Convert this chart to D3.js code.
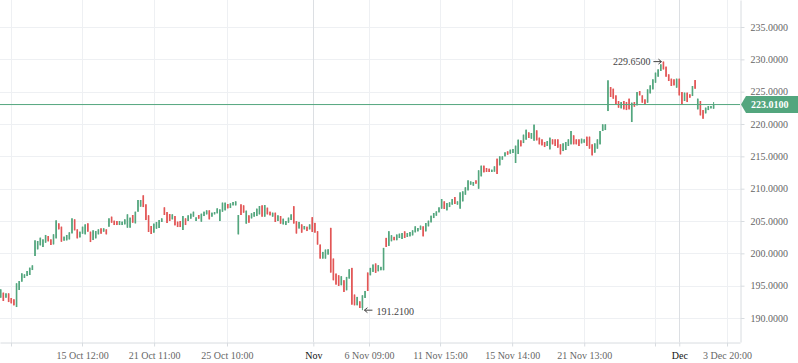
<!DOCTYPE html>
<html>
<head>
<meta charset="utf-8">
<script src="https://cdn.jsdelivr.net/npm/d3@7"></script>
<style>
  body { margin: 0; background: #fff; }
  svg { display: block; }
</style>
</head>
<body>
<div id="chart"></div>
<script>
// hourly candles (index 0 = first bar on the left)
var opens = [193.14,193.92,193.14,193.81,193.09,192.89,191.70,194.33,195.62,196.19,
196.49,196.65,197.42,199.59,200.62,201.24,200.98,201.65,202.68,202.16,
201.39,202.32,204.64,204.12,201.96,202.01,202.16,203.09,205.26,203.71,
202.47,203.04,202.94,204.64,203.35,202.06,202.32,202.94,203.87,203.35,
203.71,204.12,205.67,205.05,205.00,204.38,204.38,204.48,203.97,203.97,
205.93,204.64,206.44,207.22,208.97,207.58,205.88,204.23,203.20,203.81,
203.92,204.85,207.11,206.39,206.08,205.26,205.77,204.90,205.00,203.61,
205.41,205.00,205.36,205.67,205.00,205.93,204.90,205.77,206.03,206.65,
205.67,206.03,206.19,205.00,206.44,206.65,207.63,207.01,207.42,207.42,
202.94,207.58,207.42,204.59,205.88,205.41,205.67,205.77,206.03,207.42,
205.67,207.06,206.44,205.67,206.29,205.00,205.77,204.48,204.38,204.74,
205.15,207.29,204.97,203.84,204.48,203.71,204.12,203.71,205.59,204.71,
203.42,201.36,199.19,199.19,199.81,203.94,199.19,196.87,196.61,195.07,
195.84,194.29,196.10,197.75,193.62,191.97,192.58,191.55,193.10,197.03,
196.61,197.13,198.43,197.23,197.39,197.39,202.39,201.15,201.87,202.55,
202.03,202.37,202.22,203.40,202.53,202.63,202.78,203.25,203.40,203.66,
204.18,203.40,204.18,204.79,205.46,205.82,206.34,206.91,208.04,206.65,
207.16,207.53,208.71,207.53,206.91,208.04,209.07,209.74,210.62,210.46,
211.29,210.00,211.91,213.56,213.20,213.09,212.58,212.63,214.64,213.61,
214.48,215.00,215.77,215.41,215.52,213.97,215.36,217.47,217.06,217.58,
218.71,217.73,217.42,219.02,217.89,217.63,217.22,216.60,216.08,217.63,
217.63,217.63,216.86,215.82,215.98,216.60,216.86,218.25,217.63,217.63,
217.01,217.11,218.04,218.04,216.86,215.57,216.19,216.86,218.92,219.07,
222.01,225.72,225.46,224.43,223.56,222.42,223.56,223.40,223.92,220.31,
223.40,222.89,225.10,224.43,223.81,223.30,224.74,225.36,226.39,227.32,
228.20,229.65,228.87,227.68,227.01,226.91,225.62,227.01,224.95,223.56,
224.85,224.59,224.33,226.80,222.27,223.56,222.16,221.65,222.16,222.42,
222.37];

var highs = [194.43,193.92,193.81,193.81,193.09,192.89,195.36,195.72,196.91,196.75,
197.27,197.78,198.14,202.01,201.91,202.42,202.16,202.84,202.68,202.16,
202.94,205.10,204.64,204.12,202.58,202.84,203.25,205.41,205.26,203.71,
203.35,204.12,204.48,204.64,203.35,203.56,203.45,203.71,203.87,203.87,
203.71,205.41,205.67,205.05,205.00,205.00,204.90,205.26,206.03,205.52,
205.93,206.44,208.25,208.25,208.97,207.58,205.88,204.23,204.59,204.85,
205.15,205.41,207.11,206.39,206.08,206.03,205.77,204.90,205.00,205.77,
205.41,205.88,206.13,206.44,205.57,205.93,206.13,206.44,206.65,206.65,
206.29,206.39,206.96,206.80,207.84,207.84,207.63,207.73,207.94,208.04,
205.93,207.58,207.42,206.60,205.88,206.19,206.39,206.91,207.32,207.42,
207.47,207.06,206.44,206.29,206.29,205.88,205.77,205.36,205.00,205.52,
206.03,207.29,204.97,204.86,204.48,204.23,204.12,204.48,205.59,204.71,
203.42,201.36,200.22,200.58,200.63,203.94,199.19,196.87,196.61,196.46,
195.84,196.35,197.54,197.75,193.62,193.26,192.58,193.51,194.18,197.03,
197.75,198.27,198.43,198.17,197.91,200.84,202.39,203.42,202.80,202.55,
202.91,203.04,203.14,203.40,203.14,203.30,203.56,204.18,203.92,204.28,
204.18,204.69,205.05,205.82,206.24,206.49,207.11,208.40,208.04,207.78,
207.89,208.40,208.71,208.04,209.43,209.59,210.21,211.29,211.13,211.03,
211.29,212.84,213.56,213.56,213.20,213.09,212.94,213.45,214.64,215.00,
215.00,215.62,215.77,216.03,216.13,216.65,217.58,217.47,218.35,219.12,
218.71,218.61,219.90,219.02,217.89,217.63,217.22,217.37,217.89,217.63,
217.63,217.63,216.86,217.01,217.22,217.63,218.92,218.25,217.63,217.63,
217.73,217.63,218.04,218.04,216.86,217.01,217.63,218.92,219.95,219.95,
226.75,225.72,225.46,224.43,223.56,223.40,223.56,223.40,223.92,223.30,
223.40,224.95,225.10,224.43,223.81,225.36,225.98,226.91,227.94,228.45,
229.23,229.65,228.87,227.68,227.01,226.91,227.01,227.01,224.95,224.85,
224.85,224.59,225.88,226.80,223.92,223.56,222.16,222.53,222.78,222.78,
223.40];

var lows = [193.14,192.63,193.14,192.47,192.27,191.96,191.70,194.33,195.62,196.19,
196.49,196.65,197.42,199.59,200.62,201.24,200.98,201.65,201.86,201.29,
201.39,202.32,203.71,201.80,201.96,202.01,202.16,203.09,203.56,202.32,
202.47,203.04,202.94,203.35,201.75,202.06,202.32,202.94,203.04,203.35,
202.94,204.12,204.74,204.38,204.38,204.38,204.38,204.48,203.97,203.97,
204.74,204.64,206.44,207.22,207.16,205.15,203.30,202.99,203.20,203.81,
203.92,204.85,205.93,204.69,205.00,205.26,204.33,204.07,204.07,203.61,
204.38,205.00,205.36,205.67,205.00,205.36,204.90,205.77,206.03,205.26,
205.67,206.03,206.19,205.00,206.44,206.65,206.96,207.01,207.42,207.42,
202.94,205.93,206.29,204.59,204.74,205.41,205.67,205.77,206.03,205.67,
205.67,206.03,205.88,205.67,204.85,205.00,204.59,204.48,204.38,204.74,
205.15,204.61,203.07,203.84,203.20,203.71,203.45,203.71,203.31,203.20,
201.36,199.19,199.19,199.19,199.81,197.03,195.84,195.17,194.96,195.07,
194.03,194.29,196.10,192.07,191.97,191.97,191.55,191.21,193.10,194.18,
196.61,197.13,196.98,197.23,197.39,197.39,200.99,201.15,201.87,202.03,
202.03,202.37,202.22,202.37,202.53,202.63,202.78,203.25,203.40,203.66,
202.63,203.40,204.18,204.79,205.46,205.82,206.34,206.91,206.86,206.65,
207.16,207.53,207.63,207.53,206.91,208.04,209.07,209.74,210.62,210.46,
210.77,210.00,211.91,212.53,212.58,212.58,212.58,212.63,212.27,213.61,
214.48,215.00,215.26,215.41,215.52,213.97,215.36,216.55,217.06,217.58,
217.84,217.73,217.42,217.47,216.86,216.70,216.44,216.60,216.08,216.86,
216.60,216.34,215.31,215.82,215.98,216.60,216.86,216.86,216.86,216.60,
217.01,217.11,216.60,216.19,215.15,215.57,216.19,216.86,218.92,219.07,
222.01,224.18,223.92,223.04,222.53,222.42,222.27,222.16,222.27,220.31,
222.68,222.89,224.43,223.30,223.04,223.30,224.74,225.36,226.39,227.32,
228.20,228.45,227.32,226.65,225.88,225.98,225.62,224.43,223.04,223.56,
223.40,224.07,224.33,225.46,222.27,221.34,220.82,221.65,222.16,222.42,
222.37];

var closes = [194.43,192.63,193.81,192.47,192.27,191.96,195.36,195.72,196.91,196.75,
197.27,197.78,198.14,202.01,201.91,202.42,202.16,202.84,201.86,201.29,
202.94,205.10,203.71,201.80,202.58,202.84,203.25,205.41,203.56,202.32,
203.35,204.12,204.48,203.35,201.75,203.56,203.45,203.71,203.04,203.87,
202.94,205.41,204.74,204.38,204.38,205.00,204.90,205.26,206.03,205.52,
204.74,206.44,208.25,208.25,207.16,205.15,203.30,202.99,204.59,204.85,
205.15,205.41,205.93,204.69,205.00,206.03,204.33,204.07,204.07,205.77,
204.38,205.88,206.13,206.44,205.57,205.36,206.13,206.44,206.65,205.26,
206.29,206.39,206.96,206.80,207.84,207.84,206.96,207.73,207.94,208.04,
205.93,205.93,206.29,206.60,204.74,206.19,206.39,206.91,207.32,205.67,
207.47,206.03,205.88,206.29,204.85,205.88,204.59,205.36,205.00,205.52,
206.03,204.61,203.07,204.86,203.20,204.23,203.45,204.48,203.31,203.20,
201.36,199.19,200.22,200.58,200.63,197.03,195.84,195.17,194.96,196.46,
194.03,196.35,197.54,192.07,191.97,193.26,191.55,193.51,194.18,194.18,
197.75,198.27,196.98,198.17,197.91,200.84,200.99,203.42,202.80,202.03,
202.91,203.04,203.14,202.37,203.14,203.30,203.56,204.18,203.92,204.28,
202.63,204.69,205.05,205.82,206.24,206.49,207.11,208.40,206.86,207.78,
207.89,208.40,207.63,208.04,209.43,209.59,210.21,211.29,211.13,211.03,
210.77,212.84,213.56,212.53,212.58,212.58,212.94,213.45,212.27,215.00,
215.00,215.62,215.26,216.03,216.13,216.65,217.58,216.55,218.35,219.12,
217.84,218.61,219.90,217.47,216.86,216.70,216.44,217.37,217.89,216.86,
216.60,216.34,215.31,217.01,217.22,217.63,218.92,216.86,216.86,216.60,
217.73,217.63,216.60,216.19,215.15,217.01,217.63,218.92,219.95,219.95,
226.75,224.18,223.92,223.04,222.53,223.40,222.27,222.16,222.27,223.30,
222.68,224.95,224.43,223.30,223.04,225.36,225.98,226.91,227.94,228.45,
229.23,228.45,227.32,226.65,225.88,225.98,227.01,224.43,223.04,224.85,
223.40,224.07,225.88,225.46,223.92,221.34,220.82,222.53,222.78,222.78,
223.01];

// time axis marks, as bar positions (fractional where the mark falls between bars)
var xTickPos  = [3.9, 30.8, 58.1, 85.7, 118.4, 139.5, 166.4, 193.7, 221.0, 247.8, 257.0, 275.1];
var xTickText = ["", "15 Oct 12:00", "21 Oct 11:00", "25 Oct 10:00", "Nov", "6 Nov 09:00",
                 "11 Nov 15:00", "15 Nov 14:00", "21 Nov 13:00", "", "Dec", "3 Dec 20:00"];
var monthLabels = ["Nov", "Dec"];
var yTicks = [190, 195, 200, 205, 210, 215, 220, 225, 230, 235];

var lastPrice = 223.01;
var upColor = "#53a67e", downColor = "#e25656";

var width = 798, height = 363,
    plotW = 740, plotH = 342;

var svg = d3.select("#chart").append("svg")
  .attr("width", width)
  .attr("height", height)
  .style("font-family", "'Liberation Serif', serif")
  .style("font-size", "10px");

svg.append("rect").attr("width", width).attr("height", height).attr("fill", "#fff");

var x = d3.scaleLinear().domain([-0.265, 280]).range([0, plotW]);
var y = d3.scaleLinear().domain([186.29, 239.18]).range([plotH, 0]);

// grid
svg.append("g").selectAll("line")
  .data(yTicks).enter().append("line")
    .attr("x1", 0).attr("x2", plotW)
    .attr("y1", function(d) { return Math.round(y(d)) + 0.5; })
    .attr("y2", function(d) { return Math.round(y(d)) + 0.5; })
    .attr("stroke", "#eef0f3");

svg.append("g").selectAll("line")
  .data(xTickPos).enter().append("line")
    .attr("x1", function(d) { return Math.round(x(d)) + 0.5; })
    .attr("x2", function(d) { return Math.round(x(d)) + 0.5; })
    .attr("y1", 0).attr("y2", plotH)
    .attr("stroke", function(d, i) { return monthLabels.indexOf(xTickText[i]) >= 0 ? "#dcdfe3" : "#eef0f3"; });

// candles
var idx = d3.range(opens.length);
var candles = svg.append("g").selectAll("g")
  .data(idx).enter().append("g");

candles.append("line")
  .attr("x1", function(i) { return x(i); })
  .attr("x2", function(i) { return x(i); })
  .attr("y1", function(i) { return y(highs[i]); })
  .attr("y2", function(i) { return y(lows[i]); })
  .attr("stroke", function(i) { return closes[i] >= opens[i] ? upColor : downColor; })
  .attr("stroke-width", 1);

candles.append("rect")
  .attr("x", function(i) { return x(i) - 0.8; })
  .attr("width", 1.6)
  .attr("y", function(i) { return y(Math.max(opens[i], closes[i])); })
  .attr("height", function(i) { return Math.max(1, Math.abs(y(opens[i]) - y(closes[i]))); })
  .attr("fill", function(i) { return closes[i] >= opens[i] ? upColor : downColor; });

// last price line
svg.append("line")
  .attr("x1", 0).attr("x2", plotW)
  .attr("y1", y(lastPrice)).attr("y2", y(lastPrice))
  .attr("stroke", upColor).attr("stroke-width", 1);

// axes
var yAxis = svg.append("g")
  .attr("transform", "translate(" + (plotW + 0.5) + ",0)")
  .call(d3.axisRight(y).tickValues(yTicks).tickFormat(d3.format(".4f"))
    .tickSize(4).tickSizeOuter(0).tickPadding(6));
yAxis.select(".domain").attr("stroke", "#d8dce0");
yAxis.selectAll(".tick line").attr("stroke", "#d8dce0");
yAxis.selectAll("text").attr("fill", "#666").style("font-size", "10px")
  .style("font-family", "'Liberation Serif', serif");

var xAxis = svg.append("g")
  .attr("transform", "translate(0," + (plotH + 0.5) + ")")
  .call(d3.axisBottom(x).tickValues(xTickPos)
    .tickFormat(function(d, i) { return xTickText[i]; })
    .tickSize(4).tickSizeOuter(0).tickPadding(5));
xAxis.select(".domain").attr("stroke", "#d8dce0");
xAxis.selectAll(".tick line").attr("stroke", "#d8dce0");
xAxis.selectAll("text")
  .attr("fill", function(d, i) { return monthLabels.indexOf(xTickText[i]) >= 0 ? "#111" : "#666"; })
  .style("font-size", "10px")
  .style("font-family", "'Liberation Serif', serif");

// last price badge
var py = y(lastPrice);
svg.append("path")
  .attr("d", "M" + (plotW + 1) + "," + py +
             "L" + (plotW + 6) + "," + (py - 8.5) +
             "H" + width + "V" + (py + 8.5) +
             "H" + (plotW + 6) + "Z")
  .attr("fill", upColor);
svg.append("text")
  .attr("x", plotW + 11).attr("y", py).attr("dy", "0.35em")
  .attr("fill", "#fff").style("font-weight", "bold")
  .text(d3.format(".4f")(lastPrice));

// high / low markers
var hiI = d3.maxIndex(highs), loI = d3.minIndex(lows);
var hx = x(hiI), hy = y(highs[hiI]);
var lx = x(loI), ly = y(lows[loI]);
var annot = svg.append("g").attr("fill", "#444");

annot.append("path")
  .attr("d", "M" + (hx - 10) + "," + hy + "H" + (hx - 2) +
             "M" + (hx - 5) + "," + (hy - 2.5) + "L" + (hx - 2) + "," + hy + "L" + (hx - 5) + "," + (hy + 2.5))
  .attr("fill", "none").attr("stroke", "#444").attr("stroke-width", 1);
annot.append("text")
  .attr("x", hx - 13).attr("y", hy).attr("dy", "0.35em")
  .attr("text-anchor", "end")
  .text(d3.format(".4f")(highs[hiI]));

annot.append("path")
  .attr("d", "M" + (lx + 10) + "," + ly + "H" + (lx + 2) +
             "M" + (lx + 5) + "," + (ly - 2.5) + "L" + (lx + 2) + "," + ly + "L" + (lx + 5) + "," + (ly + 2.5))
  .attr("fill", "none").attr("stroke", "#444").attr("stroke-width", 1);
annot.append("text")
  .attr("x", lx + 14).attr("y", ly + 1.5).attr("dy", "0.35em")
  .text(d3.format(".4f")(lows[loI]));
</script>
</body>
</html>
